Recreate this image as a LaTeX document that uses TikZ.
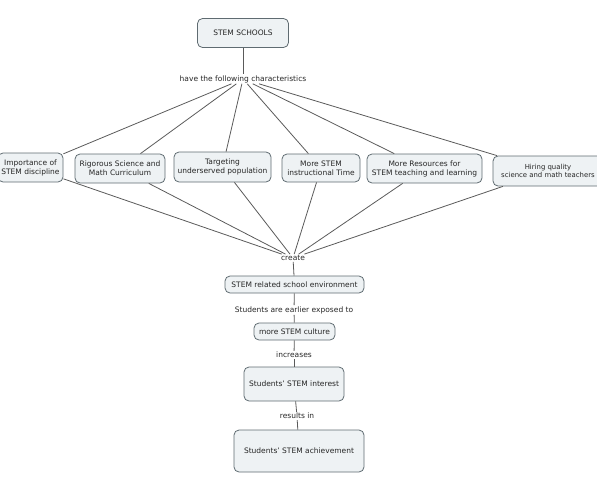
\documentclass[tikz,border=0pt]{standalone}
\usepackage{fontspec}
\setmainfont{DejaVu Sans}
\definecolor{boxfill}{HTML}{EEF2F4}
\definecolor{boxline}{HTML}{5F6B71}
\definecolor{linkline}{HTML}{5A5A5A}
\tikzset{
  concept/.style={draw=boxline,fill=boxfill,rounded corners=5pt,align=center,
    inner sep=1pt,line width=0.8pt,font=\fontsize{7.5}{9}\selectfont,text=black!85},
  linkword/.style={inner sep=1pt,font=\fontsize{7.5}{9}\selectfont,text=black!85},
  link/.style={draw=linkline,line width=0.8pt}
}
\begin{document}
\begin{tikzpicture}[x=1pt,y=-1pt]
    \useasboundingbox (0,0) rectangle (597,479);
    \clip (0,0) rectangle (597,479);
    % top
    \node[concept,minimum width=91,minimum height=29] (schools) at (243,33) {STEM SCHOOLS};
    \node[linkword] (have) at (243,79) {have the following characteristics};
    % characteristics
    \node[concept,minimum width=65,minimum height=29] (importance) at (30.5,167.5) {Importance of\\STEM discipline};
    \node[concept,minimum width=90,minimum height=29] (rigorous) at (120,168.5) {Rigorous Science and\\Math Curriculum};
    \node[concept,minimum width=97,minimum height=30] (targeting) at (222.5,167) {Targeting\\underserved population};
    \node[concept,minimum width=78,minimum height=28] (time) at (321,168) {More STEM\\instructional Time};
    \node[concept,minimum width=115,minimum height=29] (resources) at (424.5,168.5) {More Resources for\\STEM teaching and learning};
    \node[concept,minimum width=110,minimum height=30,font=\fontsize{6.9}{8.6}\selectfont] (hiring) at (548,171) {Hiring quality\\science and math teachers};
    % chain
    \node[linkword] (create) at (293,258) {create};
    \node[concept,minimum width=139,minimum height=17] (environment) at (294.5,284.5) {STEM related school environment};
    \node[linkword] (exposed) at (294,310) {Students are earlier exposed to};
    \node[concept,minimum width=81,minimum height=17] (culture) at (294.5,331.5) {more STEM culture};
    \node[linkword] (increases) at (294,355) {increases};
    \node[concept,minimum width=100,minimum height=34] (interest) at (294,384) {Students' STEM interest};
    \node[linkword] (results) at (297,416) {results in};
    \node[concept,minimum width=130,minimum height=42] (achievement) at (299,451) {Students' STEM achievement};
    % connectors
    \draw[link] (schools) -- (have);
    \foreach \c in {importance,rigorous,targeting,time,resources,hiring}{
      \draw[link] (have) -- (\c);
      \draw[link] (\c) -- (create);
    }
    \draw[link] (create) -- (environment);
    \draw[link] (environment) -- (exposed);
    \draw[link] (exposed) -- (culture);
    \draw[link] (culture) -- (increases);
    \draw[link] (increases) -- (interest);
    \draw[link] (interest) -- (results);
    \draw[link] (results) -- (achievement);
\end{tikzpicture}
\end{document}
